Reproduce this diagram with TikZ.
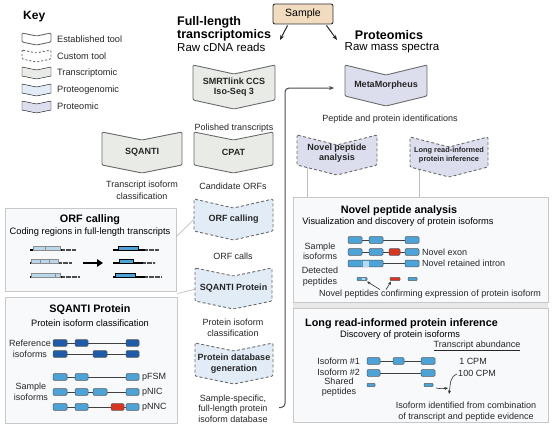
\documentclass[tikz,border=0pt]{standalone}
\usepackage{fontspec}
\setmainfont{Liberation Sans}
\usetikzlibrary{arrows.meta,calc}
\definecolor{trc}{HTML}{E8EBE6}
\definecolor{pgc}{HTML}{E2ECF6}
\definecolor{prc}{HTML}{DCDEEE}
\definecolor{chevdraw}{HTML}{6A6A6A}
\definecolor{panelfill}{HTML}{F8F9FB}
\definecolor{paneldraw}{HTML}{C8C8C8}
\definecolor{dkblue}{HTML}{1F5BA8}
\definecolor{ltblue}{HTML}{4BA3D8}
\definecolor{paleblue}{HTML}{B9D8EC}
\definecolor{novred}{HTML}{D9341F}
\definecolor{samplefill}{HTML}{F2DCC0}
\newcommand\fs[2]{\fontsize{#1}{#2}\selectfont}
\newcommand\chev[9]{%
 \pgfmathsetmacro\chcx{(#2+#3)/2}%
 \pgfmathsetmacro\chyn{#4+#6}%
 \pgfmathsetmacro\chyb{#4+#5}%
 \pgfmathsetmacro\chyp{#4+#5+#6}%
 \pgfmathsetmacro\chyc{#4+#6/2+#5/2}%
 \draw[#7] (#2,#4) -- (\chcx,\chyn) -- (#3,#4) -- (#3,\chyb) -- (\chcx,\chyp) -- (#2,\chyb) -- cycle;
 \node[chevtext,#8] (#1) at (\chcx,\chyc) {#9};
}
\newcommand\exonbox[4]{\draw[exon,fill=#4] (#1,{#3-3.3}) rectangle (#2,{#3+3.3});}
\newcommand\pepbox[4]{\draw[exon,fill=#4] (#1,{#3-1.7}) rectangle (#2,{#3+1.7});}
\begin{document}
\begin{tikzpicture}[x=1pt,y=-1pt,
 established/.style={draw=chevdraw, line width=0.9pt, rounded corners=1.2pt, line join=round},
 custom/.style={draw=chevdraw, line width=0.9pt, dash pattern=on 3pt off 2.2pt, rounded corners=1.2pt},
 chevtext/.style={font=\fs{9}{10.5}\bfseries, align=center, inner sep=0, text=black!85},
 captxt/.style={font=\fs{9}{11.5}, align=center, inner sep=0, text=black!85},
 panel/.style={draw=paneldraw, fill=panelfill, line width=0.8pt},
 ptitle/.style={font=\fs{10.8}{12}\bfseries, inner sep=0},
 psub/.style={font=\fs{9.3}{11}, inner sep=0},
 lbl/.style={font=\fs{9}{10.5}, inner sep=0, align=center, text=black!85},
 keylbl/.style={font=\fs{9.2}{11}, inner sep=0, anchor=west, text=black!85},
 headtxt/.style={font=\fs{12.5}{13}\bfseries, inner sep=0},
 rawtxt/.style={font=\fs{11.5}{13}, inner sep=0},
 ghost/.style={draw=black!25, line width=0.7pt},
 conn/.style={draw=black!70, line width=1pt, rounded corners=4pt, -{Stealth[length=5pt,width=4pt]}},
 sarrow/.style={draw=black!85, line width=1pt, -{Stealth[length=5pt,width=4pt]}},
 smallarrow/.style={draw=black!80, line width=0.6pt, -{Stealth[length=3.5pt,width=3pt]}},
 intron/.style={draw=black!75, line width=0.9pt},
 exon/.style={draw=black!65, line width=0.5pt, rounded corners=1pt},
 tline/.style={draw=black, line width=1.2pt},
 polytail/.style={draw=black!70, line width=1.6pt, dash pattern=on 0.5pt off 0.7pt},
 orfpale/.style={draw=black!45, fill=paleblue, line width=0.5pt},
 orfbox/.style={draw=black, fill=ltblue, line width=0.5pt}]
\useasboundingbox (0,0) rectangle (554,428);
\fill[white] (0,0) rectangle (554,428);

% ---------------- Key
\node[font=\fs{12}{14}\bfseries, anchor=west, inner sep=0] (keyt) at (23,17) {Key};
\chev{k1}{22}{51}{33}{9}{3}{established, fill=white}{}{}
\chev{k2}{22}{51}{50}{9}{3}{custom, dash pattern=on 2pt off 2pt, fill=white}{}{}
\chev{k3}{22}{51}{67}{9}{3}{fill=trc}{}{}
\chev{k4}{22}{51}{84}{9}{3}{fill=pgc}{}{}
\chev{k5}{22}{51}{101}{9}{3}{fill=prc}{}{}
\node[keylbl] (k1l) at (57,39) {Established tool};
\node[keylbl] (k2l) at (57,56) {Custom tool};
\node[keylbl] (k3l) at (57,73) {Transcriptomic};
\node[keylbl] (k4l) at (57,90) {Proteogenomic};
\node[keylbl] (k5l) at (57,106.5) {Proteomic};

% ---------------- Headings
\node[headtxt, anchor=west] (flt1) at (177,22) {Full-length};
\node[headtxt, anchor=west] (flt2) at (177,35) {transcriptomics};
\node[rawtxt, anchor=west] (raw1) at (177,47.5) {Raw cDNA reads};
\node[draw=black!80, fill=samplefill, rounded corners=2pt, minimum width=60pt, minimum height=20pt, font=\fs{10.5}{12}, line width=0.9pt, inner sep=0] (sample) at (303,14) {Sample};
\node[headtxt] (prot) at (389,35) {Proteomics};
\node[rawtxt] (raw2) at (392,47.5) {Raw mass spectra};
\coordinate (sa1) at (280,40);
\coordinate (sa2) at (337,40);
\draw[sarrow] ($(sample.south west)+(15,1)$) -- (sa1);
\draw[sarrow] ($(sample.south east)+(-7,1)$) -- (sa2);

% ---------------- Panels
\node[panel, minimum width=171pt, minimum height=83pt, inner sep=0] (orfpanel) at (90.5,249.5) {};
\node[panel, minimum width=172pt, minimum height=126pt, inner sep=0] (sqpanel) at (91,360) {};
\fill[black!9] (293,300) rectangle (548,309);
\node[panel, minimum width=255pt, minimum height=105pt, inner sep=0] (novpanel) at (420.5,249.5) {};
\node[panel, minimum width=255pt, minimum height=114pt, inner sep=0] (lrpanel) at (420.5,365) {};

% ghost connectors
\coordinate (orfL) at (194.5,219);
\coordinate (sqpL) at (195.5,289);
\draw[ghost] ($(orfpanel.east)+(0,-13)$) -- (orfL);
\draw[ghost] ($(sqpanel.north east)+(0,-3)$) -- (sqpL);
\coordinate (novleg) at (307,166);
\coordinate (lrleg) at (419,168);
\draw[ghost] (novleg) -- (novleg |- novpanel.north);
\draw[ghost] (lrleg) -- (lrleg |- novpanel.north);

% ---------------- Chevrons
\chev{smrt}{193}{275}{65}{35}{9}{established, fill=trc}{}{SMRTlink CCS\\Iso-Seq 3}
\node[captxt] (polished) at (234,128) {Polished transcripts};
\chev{meta}{345}{427}{65}{31}{10}{established, fill=prc}{}{MetaMorpheus}
\node[captxt] (pepid) at (390,119) {Peptide and protein identifications};
\chev{sqanti}{102}{182}{132}{33}{8}{established, fill=trc}{}{SQANTI}
\chev{cpat}{194}{273}{132}{33}{8}{established, fill=trc}{}{CPAT}
\node[captxt] (tic) at (142,190.5) {Transcript isoform\\classification};
\node[captxt] (cand) at (233,186) {Candidate ORFs};
\chev{orf}{194}{273}{199}{32}{9}{custom, fill=pgc}{}{ORF calling}
\node[captxt] (orfcalls) at (233,256) {ORF calls};
\chev{sqp}{195}{272}{268}{33}{8}{custom, fill=pgc}{}{SQANTI Protein}
\node[captxt] (pic) at (233,328) {Protein isoform\\classification};
\chev{pdb}{195}{273}{343}{33}{8}{custom, fill=pgc}{}{Protein database\\generation}
\node[captxt, font=\fs{9}{10.5}] (sdb) at (233,408.5) {Sample-specific,\\full-length protein\\isoform database};
\chev{nov}{297}{377}{135}{30}{10}{custom, fill=prc}{yshift=2pt}{Novel peptide\\analysis}
\chev{lri}{410}{488}{137}{30}{10}{custom, fill=prc}{font=\fs{7.4}{9.5}\bfseries, yshift=2pt}{Long read-informed\\protein inference}

% long connector back to MetaMorpheus
\coordinate (loopS) at (279,407.5);
\coordinate (metaW) at (334,88);
\draw[conn] (loopS) -- ++(6,0) |- (metaW);

% ---------------- ORF calling panel
\node[ptitle] (orft) at (90,220) {ORF calling};
\node[psub] (orfs) at (90,232) {Coding regions in full-length transcripts};
\draw[tline] (30,250) -- (62,250); \draw[orfpale] (33,246) rectangle (60,250); \draw[black!45,line width=0.4pt] (45,246) -- (45,250); \draw[polytail] (62,250) -- (76,250);
\draw[tline] (30,263) -- (59,263); \draw[orfpale] (31,259) rectangle (58,263); \draw[black!45,line width=0.4pt] (40,259) -- (40,263) (49,259) -- (49,263); \draw[polytail] (59,263) -- (72,263);
\draw[tline] (30,277) -- (62,277); \draw[orfpale] (31,273) rectangle (60,277); \draw[black!45,line width=0.4pt] (55,273) -- (55,277); \draw[polytail] (62,277) -- (79,277);
\draw[line width=2.3pt, -{Triangle[length=6pt,width=7.5pt]}] (83,263) -- (103,263);
\draw[tline] (113,250) -- (145,250); \draw[orfbox] (118,246.5) rectangle (138,250.5); \draw[polytail] (145,250) -- (159,250);
\draw[tline] (113,263) -- (143,263); \draw[orfbox] (119,259.5) rectangle (133,263.5); \draw[polytail] (143,263) -- (155,263);
\draw[tline] (113,277) -- (145,277); \draw[orfbox] (115,273.5) rectangle (135,277.5); \draw[polytail] (145,277) -- (161,277);

% ---------------- SQANTI Protein panel
\node[ptitle] (sqt) at (90,310) {SQANTI Protein};
\node[psub] (sqs) at (90,323) {Protein isoform classification};
\node[lbl, font=\fs{9}{11}] (refl) at (30,348.5) {Reference\\isoforms};
\node[lbl, font=\fs{9}{10.5}] (sampl) at (31,392) {Sample\\isoforms};
\draw[intron] (53,343) -- (139,343);
\exonbox{53}{67}{343}{dkblue}\exonbox{75}{88}{343}{dkblue}\exonbox{126}{139}{343}{dkblue}
\draw[intron] (53,354) -- (139,354);
\exonbox{53}{67}{354}{dkblue}\exonbox{93}{107}{354}{dkblue}\exonbox{126}{139}{354}{dkblue}
\draw[intron] (53,377) -- (139,377);
\exonbox{53}{67}{377}{ltblue}\exonbox{75}{88}{377}{ltblue}\exonbox{126}{139}{377}{ltblue}
\draw[intron] (53,392) -- (139,392);
\exonbox{53}{67}{392}{ltblue}\exonbox{75}{88}{392}{ltblue}\exonbox{93}{107}{392}{ltblue}\exonbox{126}{139}{392}{ltblue}
\draw[intron] (53,407) -- (139,407);
\exonbox{53}{67}{407}{ltblue}\exonbox{75}{88}{407}{ltblue}\exonbox{111}{124}{407}{novred}\exonbox{126}{139}{407}{ltblue}
\node[lbl, anchor=west] (pfsm) at (142,377) {pFSM};
\node[lbl, anchor=west] (pnic) at (142,392) {pNIC};
\node[lbl, anchor=west] (pnnc) at (142,407) {pNNC};

% ---------------- Novel peptide panel
\node[ptitle] (novt) at (399,211) {Novel peptide analysis};
\node[psub] (novs) at (398,222) {Visualization and discovery of protein isoforms};
\node[lbl] (novsl) at (320,251.5) {Sample\\isoforms};
\draw[intron] (348,240) -- (419,240);
\exonbox{348}{362}{240}{ltblue}\exonbox{369}{383}{240}{ltblue}\exonbox{405}{419}{240}{ltblue}
\draw[intron] (348,252) -- (419,252);
\exonbox{348}{362}{252}{ltblue}\exonbox{369}{383}{252}{ltblue}\exonbox{389}{400}{252}{novred}\exonbox{405}{419}{252}{ltblue}
\draw[intron] (348,263.5) -- (419,263.5);
\exonbox{348}{383}{263.5}{ltblue}\fill[paleblue] (362.5,260.5) rectangle (368.5,266.5);
\exonbox{405}{419}{263.5}{ltblue}
\node[lbl, anchor=west] (nexon) at (422,252) {Novel exon};
\node[lbl, anchor=west] (nri) at (422,263.5) {Novel retained intron};
\node[lbl] (detl) at (320,276.5) {Detected\\peptides};
\pepbox{357}{367}{279}{ltblue}\fill[paleblue] (362,277.8) rectangle (364.5,280.2);
\pepbox{390}{400}{279}{novred}
\pepbox{408}{417}{279}{ltblue}
\node[lbl] (novpep) at (430,294) {Novel peptides confirming expression of protein isoform};
\coordinate (np1) at (367,281.5);
\coordinate (np2) at (391,281.5);
\draw[smallarrow] ($(novpep.north west)+(61,0)$) -- (np1);
\draw[smallarrow] ($(novpep.north west)+(67,0)$) -- (np2);

% ---------------- Long read panel
\node[ptitle, anchor=west] (lrt) at (305,324) {Long read-informed protein inference};
\node[psub] (lrs) at (400,335) {Discovery of protein isoforms};
\node[lbl] (ta) at (477,346) {\underline{Transcript abundance}};
\node[lbl, anchor=east] (iso1) at (360,361) {Isoform \#1};
\node[lbl, anchor=east] (iso2) at (360,372.5) {Isoform \#2};
\draw[intron] (367,361) -- (435,361);
\exonbox{367}{380}{361}{ltblue}\exonbox{393}{404}{361}{ltblue}\exonbox{421}{435}{361}{ltblue}
\draw[intron] (367,373) -- (435,373);
\exonbox{367}{380}{373}{ltblue}\exonbox{421}{435}{373}{ltblue}
\node[lbl] (cpm1) at (473,361) {1 CPM};
\node[lbl] (cpm100) at (477,373) {100 CPM};
\node[lbl] (shared) at (339,387) {Shared\\peptides};
\pepbox{367}{375}{385}{ltblue}
\pepbox{424}{433}{385}{ltblue}
\coordinate (conv) at (449,394);
\draw[smallarrow] ($(cpm100.west)+(-1,1)$) to[out=200,in=80] (conv);
\draw[smallarrow] (436,388) to[out=-10,in=190] (448,388);
\node[lbl] (iid) at (466,411.5) {Isoform identified from combination\\of transcript and peptide evidence};
\end{tikzpicture}
\end{document}
